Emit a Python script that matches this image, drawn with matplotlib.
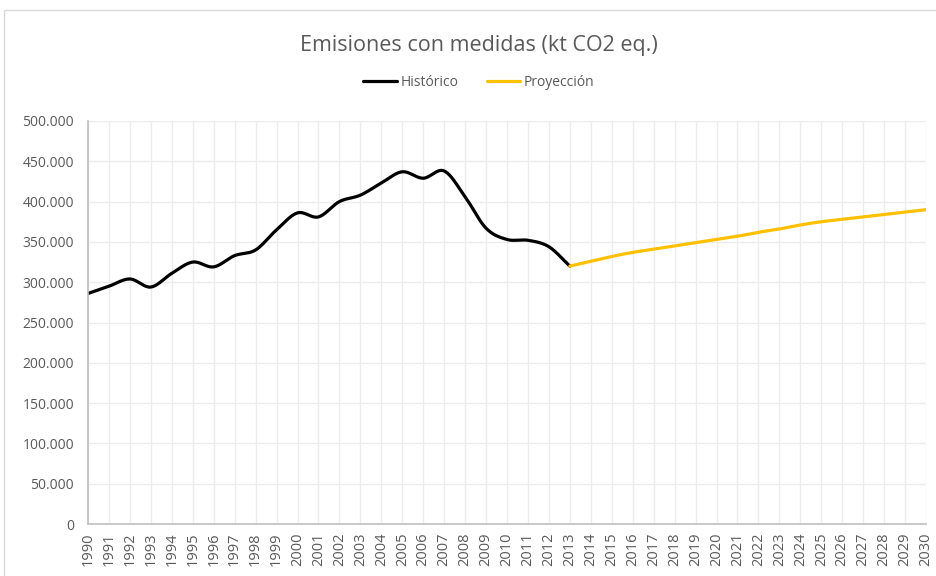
"""
Emisiones con medidas (kt CO2 eq.) - histórico y proyección
"""
import numpy as np
import matplotlib.pyplot as plt
from matplotlib.patches import Rectangle
from matplotlib.ticker import FuncFormatter

# Datos (miles de kt CO2 eq.)
years_hist = list(range(1990, 2014))
hist = [286, 295, 304, 294, 311, 325, 319, 333, 340, 365, 386, 381,
        400, 408, 423, 437, 429, 438, 406, 367, 353, 352, 344, 320]
years_proj = list(range(2013, 2031))
proj = [320, 326, 332, 337, 341, 345, 349, 353, 357, 362, 366, 371,
        375, 378, 381, 384, 387, 390]
all_years = list(range(1990, 2031))


def smooth(x, y, n=20):
    # curva suave tipo Excel (Catmull-Rom)
    x = np.asarray(x, float)
    y = np.asarray(y, float)
    px = np.concatenate([[2 * x[0] - x[1]], x, [2 * x[-1] - x[-2]]])
    py = np.concatenate([[2 * y[0] - y[1]], y, [2 * y[-1] - y[-2]]])
    xs, ys = [], []
    t = np.linspace(0, 1, n, endpoint=False)
    for i in range(1, len(px) - 2):
        for arr, out in ((px, xs), (py, ys)):
            p0, p1, p2, p3 = arr[i - 1], arr[i], arr[i + 1], arr[i + 2]
            out.extend(0.5 * ((2 * p1) + (-p0 + p2) * t
                              + (2 * p0 - 5 * p1 + 4 * p2 - p3) * t ** 2
                              + (-p0 + 3 * p1 - 3 * p2 + p3) * t ** 3))
    xs.append(x[-1])
    ys.append(y[-1])
    return np.array(xs), np.array(ys)


plt.rcParams['font.family'] = ['Open Sans', 'DejaVu Sans']
gray = '#595959'

fig = plt.figure(figsize=(9.36, 5.76), dpi=100)
fig.patches.append(Rectangle((4 / 936, -0.05), 1.1, 1 - 10 / 576 + 0.05,
                             transform=fig.transFigure, fill=False,
                             edgecolor='#d9d9d9', linewidth=1))
ax = fig.add_axes([88 / 936, 1 - 524 / 576, (926 - 88) / 936, (524 - 121) / 576])

hx, hy = smooth(years_hist, np.array(hist) * 1000)
px, py = smooth(years_proj, np.array(proj) * 1000)
ax.plot(hx, hy, color='black', linewidth=2.3, label='Histórico', solid_capstyle='round')
ax.plot(px, py, color='#ffc000', linewidth=2.3, label='Proyección', solid_capstyle='round')

ax.set_xlim(1990, 2030)
ax.set_ylim(0, 500000)
ax.set_xticks(all_years)
ax.set_xticklabels([str(y) for y in all_years], rotation=90)
ax.set_yticks(np.arange(0, 500001, 50000))
ax.yaxis.set_major_formatter(FuncFormatter(
    lambda v, p: '0' if v == 0 else f'{int(v):,}'.replace(',', '.')))
ax.tick_params(axis='both', length=0, colors=gray)
ax.tick_params(axis='y', pad=10, labelsize=10)
ax.tick_params(axis='x', pad=6, labelsize=10.5)
ax.grid(True, color='#ececec', linewidth=1)
ax.set_axisbelow(True)
for s in ['top', 'right']:
    ax.spines[s].set_visible(False)
for s in ['left', 'bottom']:
    ax.spines[s].set_color('#bfbfbf')
    ax.spines[s].set_linewidth(1.2)

fig.text(479 / 936, 1 - 45 / 576, 'Emisiones con medidas (kt CO2 eq.)',
         ha='center', va='center', fontsize=15.5, color=gray)
fig.legend(loc='center', bbox_to_anchor=(479 / 936, 1 - 82 / 576), ncol=2,
           frameon=False, fontsize=10, handlelength=2.4, handletextpad=0.3,
           columnspacing=2.0, labelcolor=gray)

fig.savefig('out.png', dpi=100)
